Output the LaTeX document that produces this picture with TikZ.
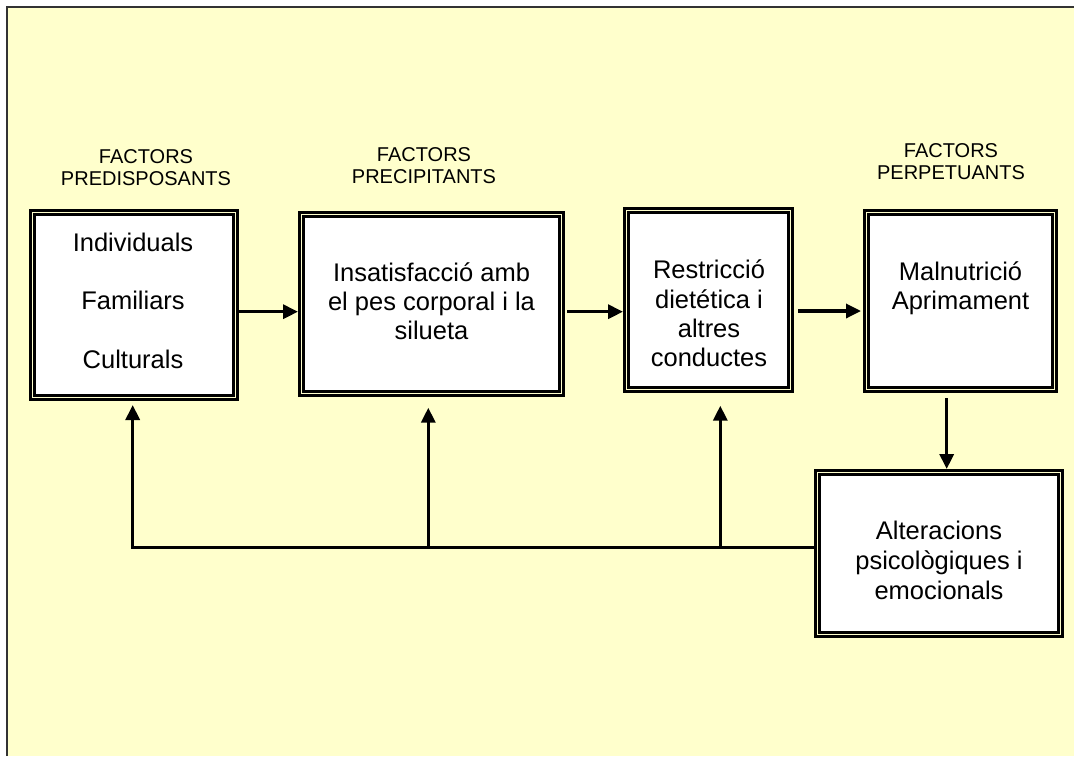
\documentclass[tikz,border=0pt]{standalone}
\usepackage{fontspec}
\setmainfont{Liberation Sans}
\usetikzlibrary{arrows.meta}
\definecolor{bg}{HTML}{FFFFCC}
\begin{document}
\begin{tikzpicture}[x=1pt,y=-1pt,
  box/.style={draw=black, double=bg, double distance=1.5pt, line width=2.8pt, fill=white, inner sep=0pt, outer sep=3.55pt},
  txt/.style={font=\fontsize{25.5}{29.3}\selectfont, align=center, inner sep=0pt, anchor=north},
  lab/.style={font=\fontsize{20}{22.5}\selectfont, align=center, inner sep=0pt, anchor=north},
  arr/.style={line width=3.3pt, -{Triangle[length=15pt,width=14pt]}},
  ln/.style={line width=3.3pt}
]
\useasboundingbox (0,0) rectangle (1074,756);
\fill[white] (0,0) rectangle (1074,756);
\fill[bg] (7,7) rectangle (1074,756);
\draw[line width=2pt, black!80] (7,756) -- (7,7) -- (1074,7);

% boxes
\node[box, minimum width=202.9pt, minimum height=184.9pt] (b1) at (134,305) {};
\node[box, minimum width=259.9pt, minimum height=178.9pt] (b2) at (431.5,304) {};
\node[box, minimum width=163.9pt, minimum height=178.9pt] (b3) at (708.5,300) {};
\node[box, minimum width=187.9pt, minimum height=176.9pt] (b4) at (960.5,301) {};
\node[box, minimum width=242.9pt, minimum height=161.9pt] (b5) at (939,553.5) {};

% texts
\node[txt] (t1) at (133,232.5) {Individuals\\[29.3pt]Familiars\\[29.3pt]Culturals};
\node[txt] (t2) at (431.5,262.2) {Insatisfacció amb\\el pes corporal i la\\silueta};
\node[txt] (t3) at (709,259.8) {Restricció\\dietética i\\altres\\conductes};
\node[txt] (t4) at (960.5,261.5) {Malnutrició\\Aprimament};
\node[txt, font=\fontsize{25.5}{30}\selectfont] (t5) at (939,521) {Alteracions\\psicològiques i\\emocionals};

% labels
\node[lab] (l1) at (146,149) {FACTORS\\PREDISPOSANTS};
\node[lab] (l2) at (424,147) {FACTORS\\PRECIPITANTS};
\node[lab] (l3) at (951,143) {FACTORS\\PERPETUANTS};

% forward arrows
\draw[arr] ([yshift=-6.7pt]b1.east) -- ([yshift=-7.7pt]b2.west);
\draw[arr] ([xshift=2pt,yshift=-7.7pt]b2.east) -- ([yshift=-11.7pt]b3.west);
\draw[arr] ([xshift=4pt,yshift=-11pt]b3.east) -- ([xshift=-2pt,yshift=-10pt]b4.west);
\draw[arr, shorten <=5pt] ([xshift=-13.8pt]b4.south) -- ([xshift=7.7pt]b5.north);

% feedback
\coordinate (fb) at ([yshift=5.8pt]b5.west);
\coordinate (v1) at ([xshift=-1.3pt]b1.south);
\coordinate (v2) at ([xshift=-3.2pt]b2.south);
\coordinate (v3) at ([xshift=11.8pt]b3.south);
\draw[arr, shorten >=4pt] (fb) -| (v1);
\draw[arr, shorten >=10.7pt] (v2 |- fb) -- (v2);
\draw[arr, shorten >=12.7pt] (v3 |- fb) -- (v3);
\end{tikzpicture}
\end{document}
